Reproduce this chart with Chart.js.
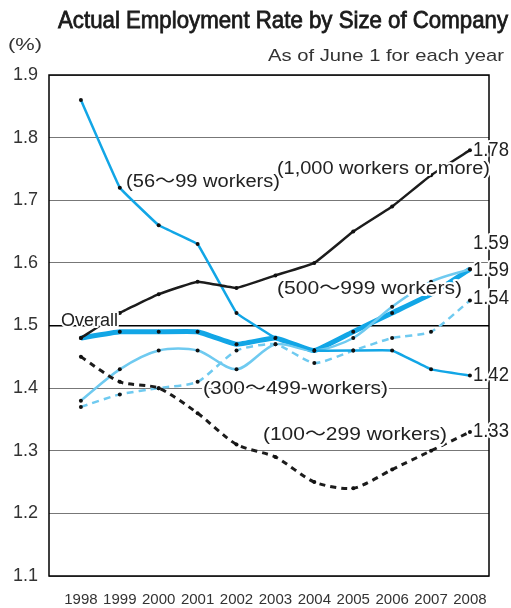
<!DOCTYPE html>
<html>
<head>
<meta charset="utf-8">
<script src="https://cdn.jsdelivr.net/npm/chart.js@4.4.1/dist/chart.umd.min.js"></script>
<style>
html,body{margin:0;padding:0;background:#fff;}
canvas{display:block;}
</style>
</head>
<body>
<canvas id="c" width="511" height="608"></canvas>
<script>
const years = [1998,1999,2000,2001,2002,2003,2004,2005,2006,2007,2008];
const overall   = [1.48,1.49,1.49,1.49,1.47,1.48,1.46,1.49,1.52,1.55,1.59];
const w56_99    = [1.86,1.72,1.66,1.63,1.52,1.48,1.46,1.46,1.46,1.43,1.42];
const w100_299  = [1.45,1.41,1.40,1.36,1.31,1.29,1.25,1.24,1.27,1.30,1.33];
const w300_499  = [1.37,1.39,1.40,1.41,1.46,1.47,1.44,1.46,1.48,1.49,1.54];
const w500_999  = [1.38,1.43,1.46,1.46,1.43,1.47,1.46,1.48,1.53,1.57,1.59];
const w1000     = [1.48,1.52,1.55,1.57,1.56,1.58,1.60,1.65,1.69,1.74,1.78];
const yTicks = [1.1,1.2,1.3,1.4,1.5,1.6,1.7,1.8,1.9];

const seriesLabels = {
  w56_99: '(56～99 workers)',
  w1000: '(1,000 workers or more)',
  w500_999: '(500～999 workers)',
  overall: 'Overall',
  w300_499: '(300～499-workers)',
  w100_299: '(100～299 workers)'
};

const BLUE = '#12a6e6';
const LIGHT = '#6fcaf0';
const DARK = '#1c1c1c';

function pts(arr){ return years.map((y,i)=>({x:y,y:arr[i]})); }

function ds(label, data, color, width, dash, tension, order){
  return {label, data:pts(data), borderColor:color, borderWidth:width, borderDash:dash||[],
    tension:tension, pointRadius:2, pointBackgroundColor:'#111', pointBorderWidth:0,
    fill:false, order:order, cubicInterpolationMode:'default'};
}

function fitText(ctx, text, x, cy, width, stroke){
  const w = ctx.measureText(text).width;
  ctx.save();
  ctx.translate(x, cy);
  ctx.scale(width / w, 1);
  ctx.textAlign = 'left';
  ctx.textBaseline = 'middle';
  if (stroke){ ctx.lineWidth = stroke; ctx.strokeStyle = ctx.fillStyle; ctx.strokeText(text, 0, 0); }
  ctx.fillText(text, 0, 0);
  ctx.restore();
}
function haloText(ctx, text, x, cy, width){
  const w = ctx.measureText(text).width;
  ctx.save();
  ctx.translate(x, cy);
  if (width) ctx.scale(width / w, 1);
  ctx.textAlign = 'left';
  ctx.textBaseline = 'middle';
  ctx.lineJoin = 'round';
  ctx.strokeStyle = '#fff';
  ctx.lineWidth = 4;
  ctx.strokeText(text, 0, 0);
  ctx.fillText(text, 0, 0);
  ctx.restore();
}

const annotations = [
  {text:seriesLabels.w56_99,  x:1999.16, y:1.729, w:154},
  {text:seriesLabels.w1000,   x:2003.04, y:1.750, w:213},
  {text:seriesLabels.w500_999,x:2003.04, y:1.558, w:185},
  {text:seriesLabels.overall, x:1997.49, y:1.507, w:57},
  {text:seriesLabels.w300_499,x:2001.14, y:1.399, w:185},
  {text:seriesLabels.w100_299,x:2002.68, y:1.325, w:184}
];
const endLabels = [
  {arr:w1000, dy:0}, {arr:w500_999, dy:-26}, {arr:overall, dy:1},
  {arr:w300_499, dy:-2}, {arr:w56_99, dy:0}, {arr:w100_299, dy:0}
];

const deco = {
  id:'deco',
  beforeDatasetsDraw(chart){
    const {ctx, chartArea:a} = chart;
    ctx.save();
    ctx.strokeStyle = '#000';
    ctx.lineWidth = 1.5;
    ctx.strokeRect(a.left, a.top, a.right-a.left, a.bottom-a.top);
    ctx.restore();
  },
  afterDatasetsDraw(chart){
    const {ctx, scales:{x,y}} = chart;
    ctx.save();
    ctx.fillStyle = '#222';
    ctx.font = '18px "Liberation Sans", "Noto Sans CJK JP", sans-serif';
    annotations.forEach(an=>{
      haloText(ctx, an.text, x.getPixelForValue(an.x), y.getPixelForValue(an.y), an.w);
    });
    ctx.font = '20px "Liberation Sans", sans-serif';
    endLabels.forEach(el=>{
      const v = el.arr[el.arr.length-1];
      const px = x.getPixelForValue(years[years.length-1]) + 3;
      const py = y.getPixelForValue(v) + el.dy;
      haloText(ctx, v.toFixed(2), px, py, 36);
    });
    ctx.restore();
  },
  afterDraw(chart){
    const ctx = chart.ctx;
    ctx.save();
    ctx.fillStyle = '#1a1a1a';
    ctx.font = '24px "Liberation Sans Narrow", "Liberation Sans", sans-serif';
    fitText(ctx, 'Actual Employment Rate by Size of Company', 58, 21, 450, 0.8);
    ctx.font = '17px "Liberation Sans", sans-serif';
    ctx.fillStyle = '#333';
    fitText(ctx, 'As of June 1 for each year', 268, 56, 236);
    fitText(ctx, '(%)', 8, 45, 34);
    ctx.restore();
  }
};

new Chart(document.getElementById('c'), {
  type:'line',
  data:{datasets:[
    ds('1,000 workers or more', w1000, DARK, 2.5, [], 0.1, 1),
    ds('100～299 workers', w100_299, DARK, 3, [6,5], 0.25, 2),
    ds('56～99 workers', w56_99, BLUE, 2.5, [], 0.05, 3),
    ds('300～499 workers', w300_499, LIGHT, 2.5, [7,5], 0.2, 4),
    ds('500～999 workers', w500_999, LIGHT, 2.5, [], 0.3, 5),
    ds('Overall', overall, BLUE, 5, [], 0.1, 6)
  ]},
  options:{
    responsive:false,
    animation:false,
    layout:{padding:{top:75, right:22, left:0, bottom:0}},
    plugins:{legend:{display:false}, tooltip:{enabled:false}, title:{display:false}},
    scales:{
      x:{type:'linear', min:1997.18, max:2008.49,
        afterBuildTicks(s){ s.ticks = years.map(v=>({value:v})); },
        afterFit(s){ s.height = 32; },
        grid:{display:false, drawTicks:false},
        border:{display:false},
        ticks:{padding:15, color:'#333', font:{family:'"Liberation Sans", sans-serif', size:15},
          callback:(v)=>String(v), autoSkip:false, maxRotation:0}
      },
      y:{min:1.1, max:1.9,
        afterBuildTicks(s){ s.ticks = yTicks.map(v=>({value:v})); },
        afterFit(s){ s.width = 49; },
        grid:{drawTicks:false,
          color:(c)=>Math.abs(c.tick.value-1.5)<1e-6 ? '#000' : '#777',
          lineWidth:(c)=>Math.abs(c.tick.value-1.5)<1e-6 ? 1.6 : 1},
        border:{display:false},
        ticks:{padding:11, color:'#333', font:{family:'"Liberation Sans", sans-serif', size:18},
          callback:(v)=>v.toFixed(1)}
      }
    }
  },
  plugins:[deco]
});
</script>
</body>
</html>
